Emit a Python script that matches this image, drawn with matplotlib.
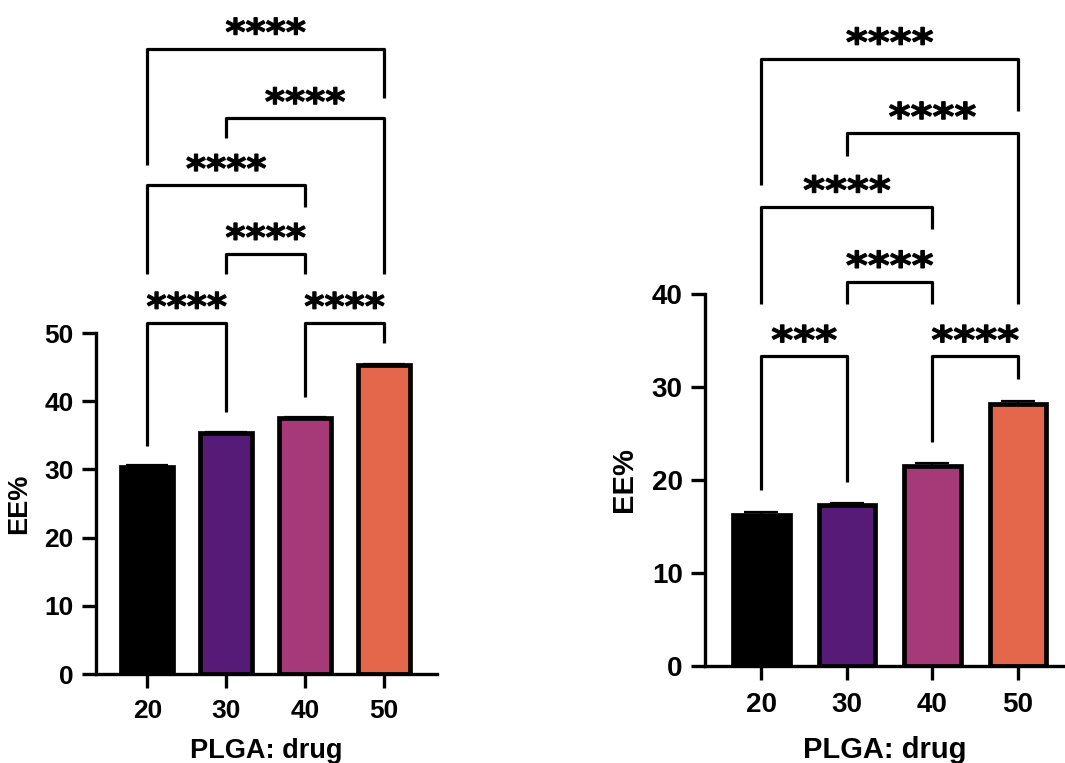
import matplotlib
matplotlib.use('Agg')
import matplotlib.pyplot as plt
from matplotlib.textpath import TextPath
from matplotlib.patches import PathPatch
from matplotlib.font_manager import FontProperties
from matplotlib.transforms import Affine2D

plt.rcParams['font.family'] = ['Liberation Sans', 'DejaVu Sans']
plt.rcParams['font.weight'] = 'bold'

# ratio groups (PLGA : drug)
categories = ['20', '30', '40', '50']
bar_colors = ['#000000', '#561b76', '#a63a79', '#e4674b']

# left panel: EE% mean and SD
left_values = [30.4, 35.3, 37.5, 45.3]
left_errors = [0.3, 0.2, 0.2, 0.2]

# right panel: EE% mean and SD
right_values = [16.2, 17.3, 21.5, 28.2]
right_errors = [0.4, 0.2, 0.3, 0.3]

# significance brackets: (group a, group b, bracket height, leg end a, leg end b, label)
left_brackets = [
    (0, 1, 51.5, 33.5, 38.4, '****'),
    (2, 3, 51.5, 40.6, 48.5, '****'),
    (1, 2, 61.6, 58.6, 58.6, '****'),
    (0, 2, 71.7, 58.6, 68.5, '****'),
    (1, 3, 81.5, 78.6, 58.6, '****'),
    (0, 3, 91.7, 74.7, 84.5, '****'),
]
right_brackets = [
    (0, 1, 33.3, 18.9, 19.8, '***'),
    (2, 3, 33.3, 24.1, 30.9, '****'),
    (1, 2, 41.3, 38.9, 38.9, '****'),
    (0, 2, 49.4, 38.9, 47.0, '****'),
    (1, 3, 57.3, 54.9, 38.9, '****'),
    (0, 3, 65.3, 51.7, 59.7, '****'),
]

star_prop = FontProperties(family='DejaVu Sans', weight='bold')


def draw_stars(fig, ax, xc, y, label, per_star, star_h, gap):
    # heavy asterisks, stretched to the size used in the original figure (pixel units)
    path = TextPath((0, 0), label, size=1, prop=star_prop)
    ext = path.get_extents()
    sx = (per_star * len(label) - 1) / ext.width
    sy = (star_h - 1) / ext.height
    px, py = ax.transData.transform((xc, y))
    tr = Affine2D().translate(-(ext.x0 + ext.x1) / 2, -ext.y0).scale(sx, sy).translate(px, py + gap)
    fig.add_artist(PathPatch(path, facecolor='black', edgecolor='black', linewidth=0.8,
                             transform=tr))


def draw_panel(fig, ax, values, errors, brackets, ymax, ystep, xlim, fs_tick, fs_label,
               tick_pad, xlabel_pad, ylabel_pad, capsize, per_star, star_h):
    x = list(range(len(categories)))
    ax.bar(x, values, width=0.66, color=bar_colors, edgecolor='black', linewidth=3.4, zorder=2)
    ax.errorbar(x, values, yerr=[[0] * len(errors), errors], fmt='none', ecolor='black',
                elinewidth=1.6, capsize=capsize, capthick=1.6, zorder=3)

    ax.set_xlim(*xlim)
    ax.set_ylim(0, ymax)
    ax.set_xticks(x)
    ax.set_xticklabels(categories)
    ax.set_yticks(range(0, ymax + 1, ystep))

    for side in ['top', 'right']:
        ax.spines[side].set_visible(False)
    for side in ['left', 'bottom']:
        ax.spines[side].set_linewidth(2.4)
    ax.tick_params(axis='both', width=2.4, length=10, labelsize=fs_tick, pad=6)
    ax.tick_params(axis='x', pad=tick_pad)

    ax.set_xlabel('PLGA: drug', fontsize=fs_label, fontweight='bold', labelpad=xlabel_pad)
    ax.set_ylabel('EE%', fontsize=fs_label, fontweight='bold', labelpad=ylabel_pad)

    for a, b, h, ya, yb, label in brackets:
        ax.plot([a, a, b, b], [ya, h, h, yb], color='black', linewidth=2.3,
                clip_on=False, solid_capstyle='butt', zorder=4)
        draw_stars(fig, ax, (a + b) / 2, h, label, per_star, star_h, 14)


fig = plt.figure(figsize=(10.65, 7.63), dpi=100)

ax1 = fig.add_axes([0.0901, 0.1166, 0.3202, 0.4469])
draw_panel(fig, ax1, left_values, left_errors, left_brackets, 50, 10, (-0.65, 3.67),
           19, 19.5, 8, 11, 9, 15, 20, 18)

ax2 = fig.add_axes([0.662, 0.1271, 0.338, 0.4875])
draw_panel(fig, ax2, right_values, right_errors, right_brackets, 40, 10, (-0.66, 3.55),
           20, 21, 9, 13, 10, 12, 21.75, 18.5)

fig.savefig('out.png', dpi=100)
